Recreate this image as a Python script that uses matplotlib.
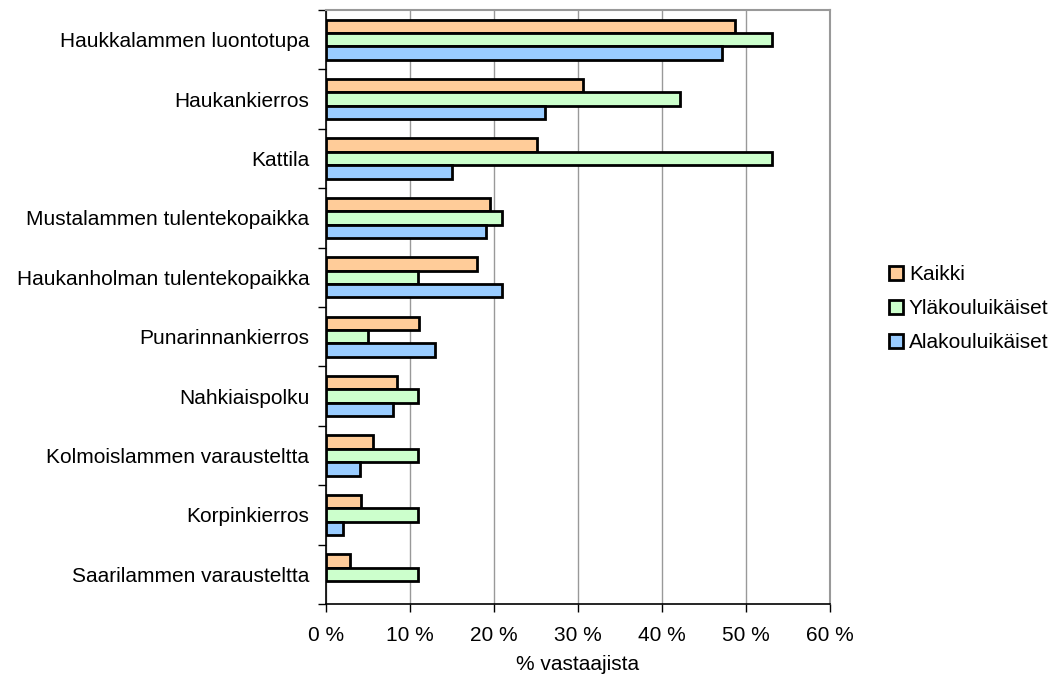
import matplotlib.pyplot as plt
import numpy as np

plt.rcParams["font.family"] = ["Liberation Sans", "DejaVu Sans"]

categories = [
    "Haukkalammen luontotupa",
    "Haukankierros",
    "Kattila",
    "Mustalammen tulentekopaikka",
    "Haukanholman tulentekopaikka",
    "Punarinnankierros",
    "Nahkiaispolku",
    "Kolmoislammen varausteltta",
    "Korpinkierros",
    "Saarilammen varausteltta",
]
kaikki = [48.7, 30.6, 25.1, 19.5, 18.0, 11.1, 8.4, 5.6, 4.2, 2.8]
ylakoulu = [53.1, 42.1, 53.1, 21.0, 11.0, 5.0, 11.0, 11.0, 11.0, 11.0]
alakoulu = [47.1, 26.1, 15.0, 19.0, 21.0, 13.0, 8.0, 4.0, 2.0, 0.0]
x_ticks = [0, 10, 20, 30, 40, 50, 60]

series = [
    ("Kaikki", kaikki, "#ffcc99"),
    ("Yläkouluikäiset", ylakoulu, "#ccffcc"),
    ("Alakouluikäiset", alakoulu, "#99ccff"),
]

fig = plt.figure(figsize=(10.58, 6.84), dpi=100)
ax = fig.add_axes([326 / 1058, 80 / 684, 504 / 1058, 594 / 684])

n = len(categories)
pos = n - 1 - np.arange(n)  # top category first
h = 0.225
for i, (name, vals, color) in enumerate(series):
    v = np.array(vals, dtype=float)
    v[v == 0] = np.nan  # zero bars are not drawn in the original
    ax.barh(pos + (1 - i) * h, v, height=h, color=color,
            edgecolor="black", linewidth=2, label=name, zorder=3)

ax.set_xlim(0, 60)
ax.set_ylim(-0.5, n - 0.5)
ax.set_xticks(x_ticks)
ax.set_xticklabels([f"{t} %" for t in x_ticks], fontsize=15)
ax.xaxis.grid(True, color="#999999", linewidth=1, zorder=0)
ax.tick_params(axis="x", length=6, width=1, direction="out", pad=10)

# category labels without ticks, boundary ticks on minor
ax.set_yticks(pos)
ax.set_yticklabels(categories, fontsize=15)
ax.tick_params(axis="y", which="major", length=0, pad=12)
ax.set_yticks(np.arange(-0.5, n, 1), minor=True)
ax.tick_params(axis="y", which="minor", length=6, width=1)

for side in ["top", "right"]:
    ax.spines[side].set_color("#999999")
    ax.spines[side].set_linewidth(1.5)
for side in ["left", "bottom"]:
    ax.spines[side].set_color("black")
    ax.spines[side].set_linewidth(1.2)

ax.set_xlabel("% vastaajista", fontsize=15, labelpad=7)

ax.legend(loc="center left", bbox_to_anchor=(1.08, 0.497), frameon=False,
          fontsize=15, handlelength=0.65, handleheight=0.65, handletextpad=0.3,
          labelspacing=0.72)

fig.savefig("out.png", dpi=100)
